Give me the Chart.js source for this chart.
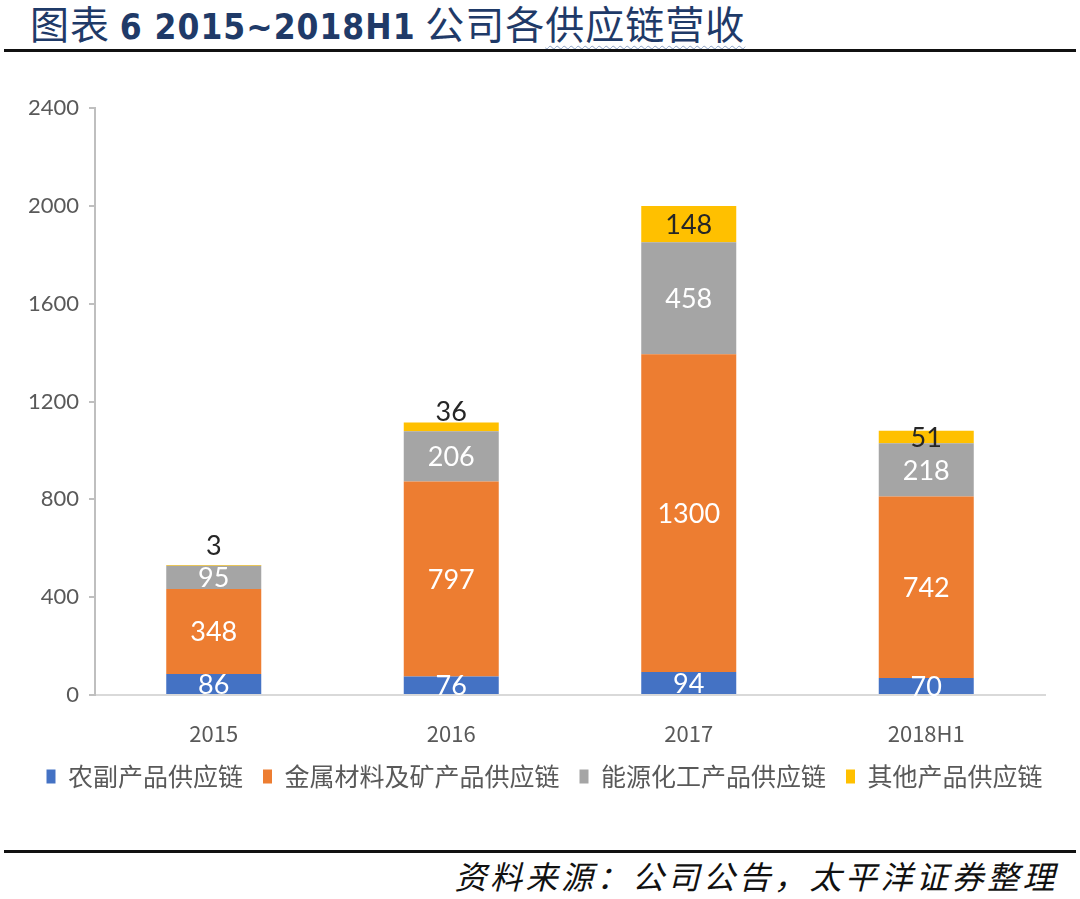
<!DOCTYPE html>
<html lang="zh">
<head>
  <meta charset="UTF-8">
  <title>图表 6 2015~2018H1 公司各供应链营收</title>
  <script src="https://cdn.jsdelivr.net/npm/chart.js"></script>
  <style>
    html, body { margin: 0; padding: 0; background: #fff; }
    body { width: 1080px; height: 899px; position: relative; overflow: hidden; }
    .title { position: absolute; left: 30px; top: -6px; font-family: "Noto Sans CJK SC", sans-serif;
             font-size: 39px; color: #1f3a68; white-space: nowrap; letter-spacing: 1px; }
    .title .num { font-family: "DejaVu Sans Condensed", "Noto Sans CJK SC", sans-serif; font-weight: bold; font-size: 35px; }
    .title .wavy { text-decoration: underline wavy #8aa0c4 1px; text-underline-offset: 6px; }
    .rule { position: absolute; left: 4px; width: 1072px; height: 3px; background: #111; }
    .source { position: absolute; right: 22px; top: 852px; font-family: "Noto Sans CJK SC", sans-serif;
              font-size: 32px; font-style: italic; color: #111; letter-spacing: 3.5px; }
    #wrap { position: absolute; left: 0; top: 85px; width: 1080px; height: 714px; }
  </style>
</head>
<body>
  <div class="title">图表 <span class="num">6 2015~2018H1</span> 公司各<span class="wavy">供应链营收</span></div>
  <div class="rule" style="top:49px"></div>
  <div id="wrap"><canvas id="chartCanvas"></canvas></div>
  <div class="rule" style="top:850px"></div>
  <div class="source">资料来源：公司公告，太平洋证券整理</div>

  <script>
    const categories = ['2015', '2016', '2017', '2018H1'];
    const agri = [86, 76, 94, 70];          // 农副产品供应链
    const metal = [348, 797, 1300, 742];    // 金属材料及矿产品供应链
    const energy = [95, 206, 458, 218];     // 能源化工产品供应链
    const other = [3, 36, 148, 51];         // 其他产品供应链
    const yTicks = [0, 400, 800, 1200, 1600, 2000, 2400];

    // 数据标签（居中，太薄的放在柱顶上方）
    const valueLabels = {
      id: 'valueLabels',
      afterDatasetsDraw(chart) {
        const ctx = chart.ctx;
        ctx.save();
        ctx.font = '27px Lato, sans-serif';
        ctx.textAlign = 'center';
        ctx.textBaseline = 'middle';
        chart.data.datasets.forEach((ds, i) => {
          chart.getDatasetMeta(i).data.forEach((bar, j) => {
            const p = bar.getProps(['x', 'y', 'base'], true);
            const h = p.base - p.y;
            let ty = (p.y + p.base) / 2 + 1;
            if (h < 10) ty = p.y - 19 + h;
            ctx.fillStyle = i === 3 ? '#262626' : '#ffffff';
            ctx.fillText(ds.data[j], p.x, ty);
          });
        });
        ctx.restore();
      }
    };

    // 图例整体右移一点，与原图对齐
    const legendShift = {
      id: 'legendShift',
      afterLayout(chart) {
        chart.legend.left += 22;
        chart.legend.right += 22;
      }
    };

    new Chart(document.getElementById('chartCanvas'), {
      type: 'bar',
      data: {
        labels: categories,
        datasets: [
          { label: '农副产品供应链', data: agri, backgroundColor: '#4472C4' },
          { label: '金属材料及矿产品供应链', data: metal, backgroundColor: '#ED7D31' },
          { label: '能源化工产品供应链', data: energy, backgroundColor: '#A5A5A5' },
          { label: '其他产品供应链', data: other, backgroundColor: '#FFC000' }
        ]
      },
      options: {
        responsive: true,
        maintainAspectRatio: false,
        animation: false,
        layout: { padding: { left: 0, right: 35, top: 20, bottom: 0 } },
        datasets: { bar: { barPercentage: 0.4, categoryPercentage: 1 } },
        plugins: {
          tooltip: { enabled: false },
          legend: {
            position: 'bottom',
            labels: {
              boxWidth: 9, boxHeight: 14, padding: 20,
              color: '#595959',
              font: { family: '"Noto Sans CJK SC", sans-serif', size: 25 }
            }
          }
        },
        scales: {
          x: {
            stacked: true,
            afterFit(scale) { scale.height = 49; },
            grid: { display: false },
            border: { display: true, color: '#d9d9d9', width: 2 },
            ticks: { color: '#595959', padding: 17, font: { family: '"Noto Sans CJK SC", sans-serif', size: 22 } }
          },
          y: {
            stacked: true,
            min: 0,
            max: 2400,
            afterFit(scale) { scale.width = 95; },
            afterBuildTicks(scale) { scale.ticks = yTicks.map(v => ({ value: v })); },
            grid: { drawOnChartArea: false, drawTicks: true, tickLength: 6, color: '#bfbfbf', lineWidth: 2 },
            border: { display: true, color: '#bfbfbf', width: 2 },
            ticks: {
              color: '#595959', padding: 10, font: { family: 'Lato, sans-serif', size: 22 },
              callback: v => String(v)
            }
          }
        }
      },
      plugins: [valueLabels, legendShift]
    });
  </script>
</body>
</html>
